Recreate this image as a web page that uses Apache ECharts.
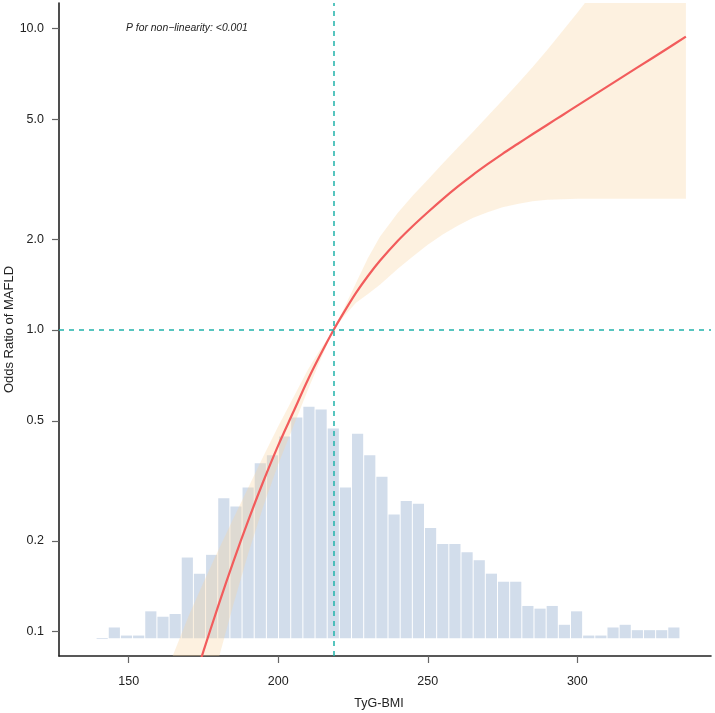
<!DOCTYPE html>
<html>
<head>
<meta charset="utf-8">
<script src="https://cdn.jsdelivr.net/npm/echarts@6/dist/echarts.min.js"></script>
<style>html,body{margin:0;padding:0;background:#fff;}</style>
</head>
<body>
<div id="main" style="width:715px;height:713px;"></div>
<script type="text/javascript">
// axis ticks
var xTicks = [150, 200, 250, 300];
var yTicks = [0.1, 0.2, 0.5, 1, 2, 5, 10];

// fitted OR curve and its 95% CI
var fitX    = [160, 165, 170, 175, 180, 185, 190, 195, 200, 205, 210, 214, 218.5, 222, 226, 230, 234, 240, 245, 250, 255, 260, 265, 270, 275, 280, 285, 290, 295, 300, 310, 320, 330, 336.3];
var fitOR   = [0.0287, 0.0416, 0.0602, 0.0862, 0.1223, 0.1708, 0.234, 0.3147, 0.4148, 0.5337, 0.6864, 0.8243, 1.0, 1.1462, 1.3274, 1.5101, 1.6958, 1.9761, 2.2117, 2.4565, 2.7163, 2.9854, 3.2617, 3.5441, 3.8373, 4.1352, 4.4547, 4.7919, 5.1523, 5.5401, 6.4063, 7.404, 8.5584, 9.3804];
var ciLower = [0.0134, 0.0213, 0.0332, 0.0521, 0.081, 0.1231, 0.182, 0.2601, 0.3588, 0.4778, 0.6362, 0.7903, 1.0, 1.1117, 1.2302, 1.3166, 1.412, 1.5962, 1.7525, 1.9176, 2.0719, 2.2163, 2.3499, 2.4561, 2.5514, 2.6172, 2.6707, 2.7027, 2.7146, 2.7237, 2.7249, 2.7241, 2.7239, 2.7245];
var ciUpper = [0.064, 0.0845, 0.1125, 0.1455, 0.1865, 0.2371, 0.3009, 0.3808, 0.4795, 0.5961, 0.7406, 0.8597, 1.0, 1.1817, 1.4323, 1.7321, 2.0367, 2.4464, 2.7912, 3.1468, 3.5611, 4.0213, 4.5272, 5.1141, 5.7713, 6.5336, 7.4304, 8.496, 9.7791, 11.2686, 15.0612, 20.1241, 26.8905, 32.2967];

// reference point
var refX = 218.5;
var refOR = 1;

// histogram of TyG-BMI (counts per bin)
var histStart = 139.1;
var histWidth = 4.067;
var histCounts = [0, 4, 1, 1, 10, 8, 9, 30, 24, 31, 52, 49, 56, 65, 68, 75, 82, 86, 85, 78, 56, 76, 68, 60, 46, 51, 50, 41, 35, 35, 32, 29, 24, 21, 21, 12, 11, 12, 5, 10, 1, 1, 4, 5, 3, 3, 3, 4];

var pText = 'P for non\u2212linearity: <0.001';

var myChart = echarts.init(document.getElementById('main'));

var histData = histCounts.map(function (c, i) {
    return [histStart + i * histWidth, histStart + (i + 1) * histWidth, c];
});
var bandData = fitX.map(function (x, i) {
    return [x, ciLower[i], ciUpper[i]];
});
var lineData = fitX.map(function (x, i) {
    return [x, fitOR[i]];
});

function renderBar(params, api) {
    var top = api.coord([api.value(0), api.value(2)]);
    var base = api.coord([api.value(1), 0]);
    return {
        type: 'rect',
        shape: {
            x: top[0] + 0.5,
            y: top[1],
            width: base[0] - top[0] - 1,
            height: Math.max(base[1] - top[1], 0.8)
        },
        style: { fill: '#D2DDEB' }
    };
}

function renderBand(params, api) {
    if (params.dataIndex !== 0) return;
    var pts = [];
    for (var i = 0; i < fitX.length; i++) {
        pts.push(api.coord([fitX[i], ciUpper[i]]));
    }
    for (var j = fitX.length - 1; j >= 0; j--) {
        pts.push(api.coord([fitX[j], ciLower[j]]));
    }
    return {
        type: 'polygon',
        shape: { points: pts },
        style: { fill: 'rgba(248,212,158,0.32)' }
    };
}

var axisFont = { color: '#222', fontSize: 12.5, fontFamily: 'Liberation Sans, Arial, sans-serif' };

option = {
    animation: false,
    backgroundColor: '#fff',
    grid: {
        left: 59,
        right: 4,
        top: 3,
        bottom: 57,
        outerBoundsMode: 'none'
    },
    xAxis: {
        type: 'value',
        min: 126.7,
        max: 344.7,
        name: 'TyG-BMI',
        nameLocation: 'middle',
        nameGap: 41,
        nameMoveOverlap: false,
        nameTextStyle: Object.assign({ padding: [0, 12, 0, 0] }, axisFont),
        axisLine: { onZero: false, lineStyle: { color: '#222', width: 1.6 } },
        axisTick: { customValues: xTicks, length: 7, lineStyle: { color: '#666', width: 1.2 } },
        axisLabel: Object.assign({ customValues: xTicks, margin: 19 }, axisFont),
        splitLine: { show: false }
    },
    yAxis: [{
        type: 'log',
        min: 0.0831,
        max: 12.13,
        name: 'Odds Ratio of MAFLD',
        nameLocation: 'middle',
        nameGap: 43,
        nameMoveOverlap: false,
        nameTextStyle: Object.assign({}, axisFont, { fontSize: 13 }),
        axisLine: { show: true, onZero: false, lineStyle: { color: '#222', width: 1.6 } },
        axisTick: { show: true, customValues: yTicks, length: 7, lineStyle: { color: '#666', width: 1.2 } },
        axisLabel: Object.assign({
            customValues: yTicks,
            margin: 15,
            formatter: function (v) { return Number(v).toFixed(1); }
        }, axisFont),
        splitLine: { show: false }
    }, {
        type: 'value',
        min: -6.6,
        max: 236.1,
        show: false,
        axisLine: { onZero: false },
        splitLine: { show: false }
    }],
    graphic: [{
        type: 'text',
        left: 126,
        top: 23,
        style: {
            text: pText,
            fill: '#222',
            font: 'italic 10.4px "Liberation Sans", Arial, sans-serif'
        }
    }],
    series: [
        {
            name: 'hist',
            type: 'custom',
            xAxisIndex: 0,
            yAxisIndex: 1,
            renderItem: renderBar,
            encode: { x: [0, 1], y: 2 },
            data: histData,
            z: 1
        },
        {
            name: 'ci',
            type: 'custom',
            xAxisIndex: 0,
            yAxisIndex: 0,
            clip: true,
            renderItem: renderBand,
            encode: { x: 0, y: [1, 2] },
            data: bandData,
            z: 2
        },
        {
            name: 'OR',
            type: 'line',
            xAxisIndex: 0,
            yAxisIndex: 0,
            data: lineData,
            smooth: 0.3,
            showSymbol: false,
            clip: true,
            lineStyle: { color: '#F25C5C', width: 2.2 },
            z: 3,
            markLine: {
                silent: true,
                symbol: 'none',
                label: { show: false },
                lineStyle: { color: '#20B2AA', width: 1.5, type: [5, 5] },
                data: [{ xAxis: refX }, { yAxis: refOR }]
            }
        }
    ]
};

myChart.setOption(option);
</script>
</body>
</html>
